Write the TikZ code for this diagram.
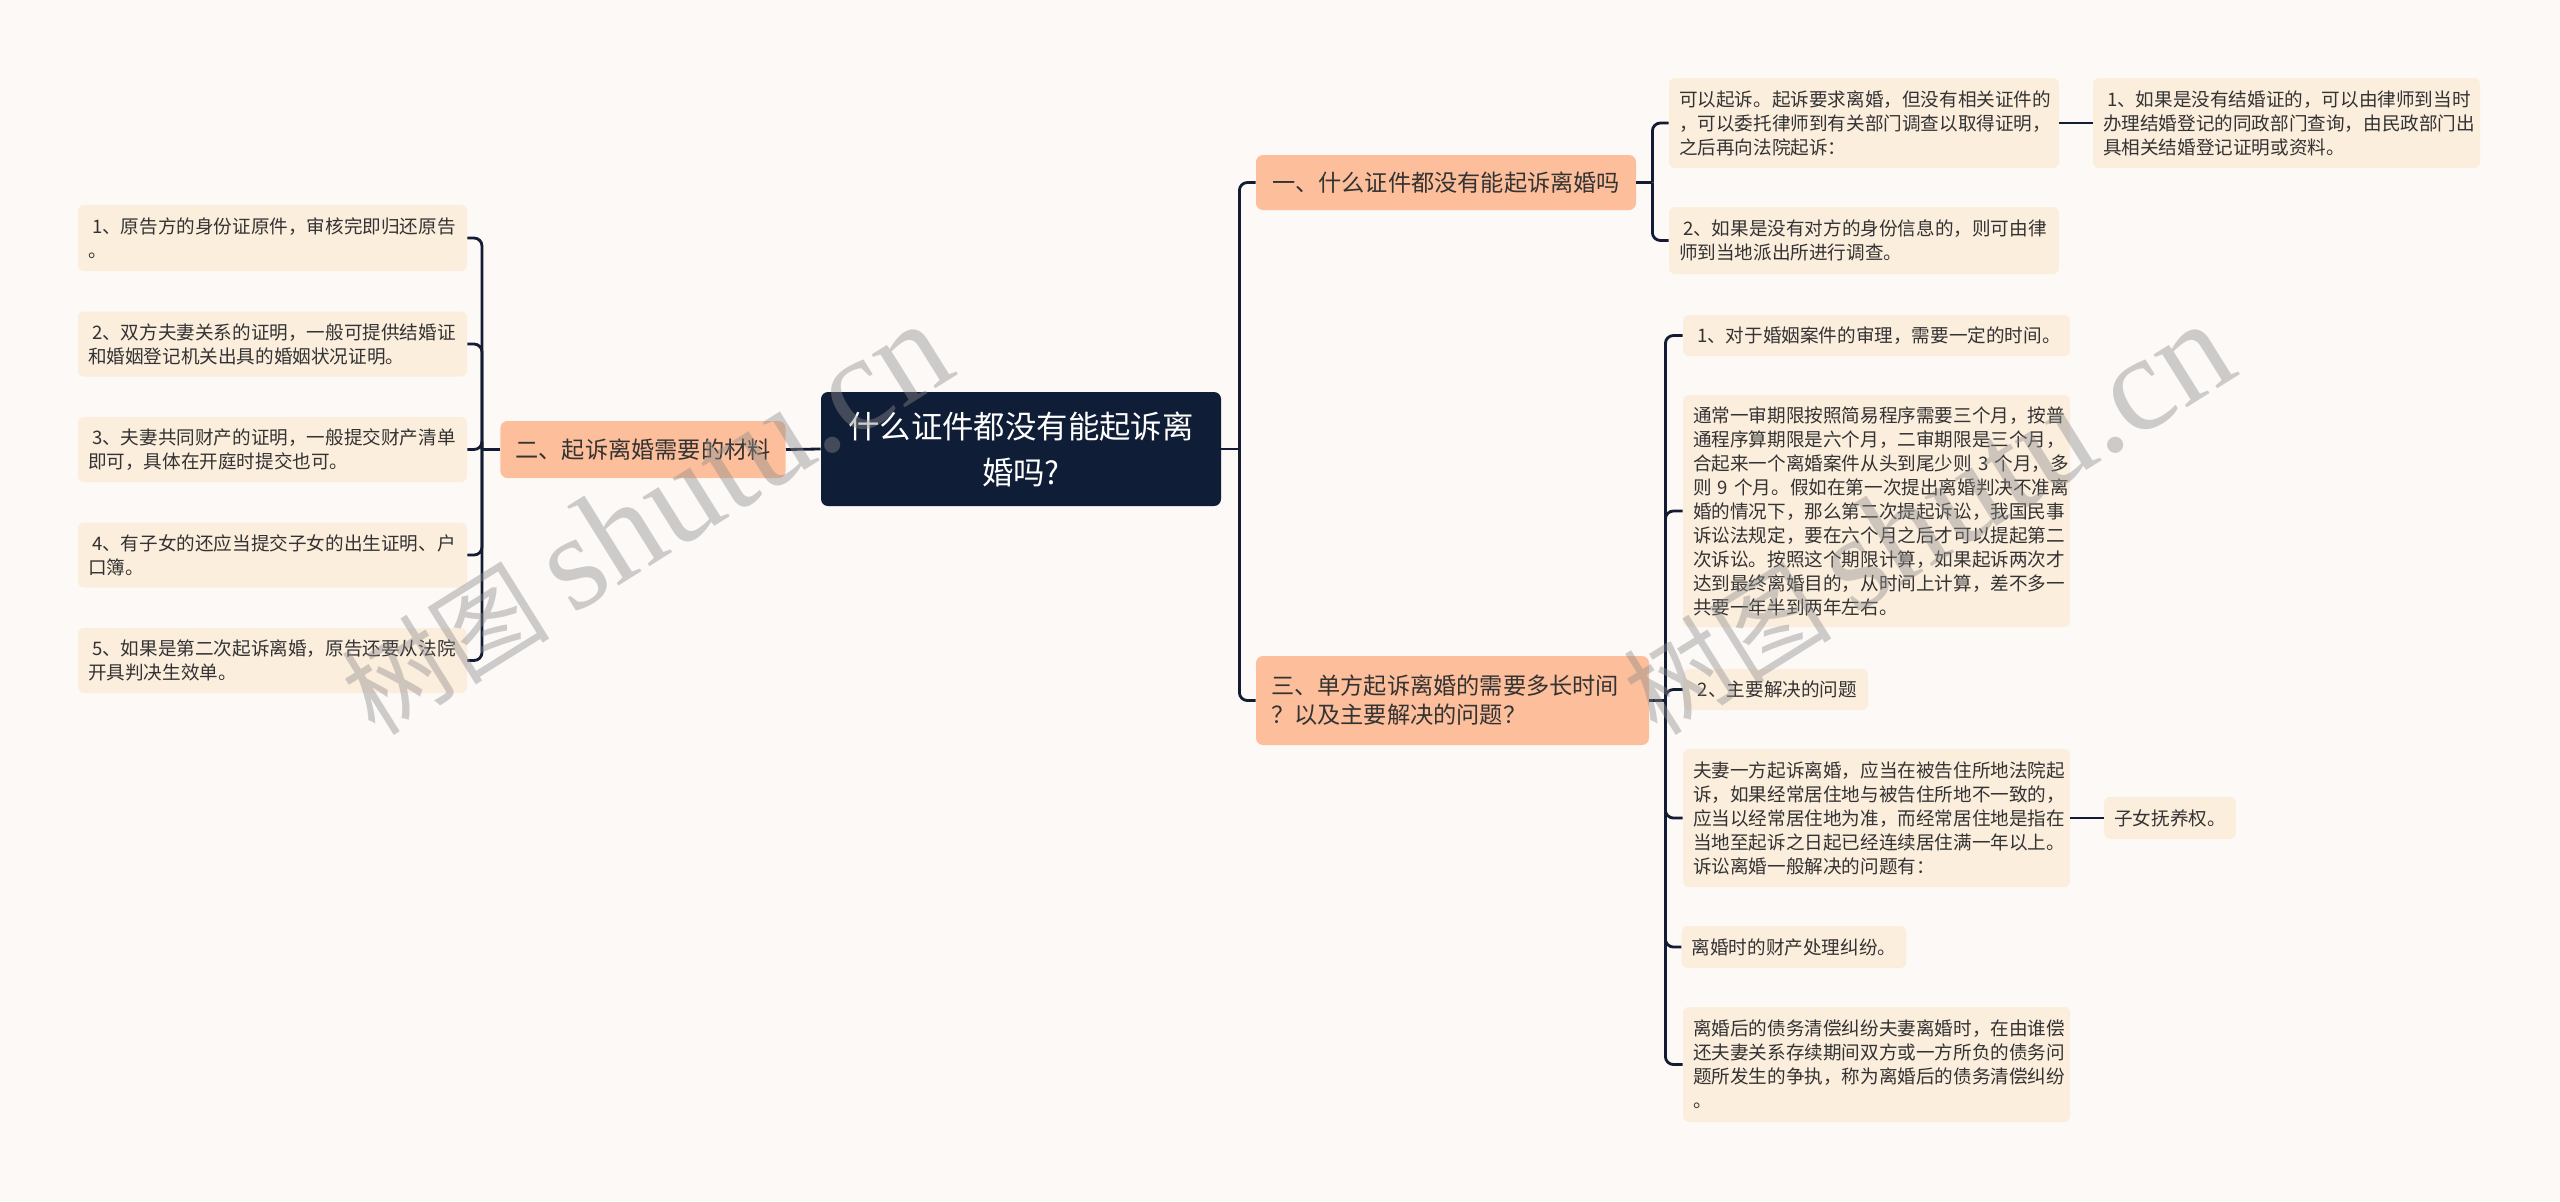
\documentclass[tikz,border=0pt]{standalone}
\usepackage{fontspec}
\setmainfont{Noto Sans CJK SC}
\newfontfamily\wmlat{Liberation Serif}
\usetikzlibrary{calc}
\definecolor{bgc}{HTML}{FCF9F7}
\definecolor{leafc}{HTML}{FCEEDD}
\definecolor{branchc}{HTML}{FDBF9B}
\definecolor{rootc}{HTML}{0F1D36}
\definecolor{linec}{HTML}{131C33}
\definecolor{txtc}{HTML}{333333}
\tikzset{
  leaf/.style={fill=leafc, rounded corners=3pt, inner xsep=5pt, inner ysep=0pt,
    font=\fontsize{9.3}{12}\selectfont, text=txtc, align=left},
  branch/.style={fill=branchc, rounded corners=3.5pt, inner xsep=7.5pt, inner ysep=0pt,
    font=\fontsize{11.6}{14.5}\selectfont, text=txtc, align=left},
  rootbox/.style={fill=rootc, rounded corners=3.5pt, inner sep=0pt,
    font=\fontsize{15.7}{23}\selectfont, text=white, align=center},
  conn/.style={draw=linec, line width=1.4pt, rounded corners=4pt},
  wm/.style={text=black!45, opacity=0.42, inner sep=0pt},
}
\newcommand{\ld}{\hspace*{2pt}}
\begin{document}
\begin{tikzpicture}[x=0.5pt,y=-0.5pt]
\fill[bgc] (0,0) rectangle (2560,1201);
\useasboundingbox (0,0) rectangle (2560,1201);

% root
\node[rootbox, minimum width=200pt, minimum height=57pt] (root) at (1021,449)
  {什么证件都没有能起诉离\\婚吗?};

% left branch
\node[branch, minimum width=142pt, minimum height=28.5pt] (lb) at (643,449.5) {二、起诉离婚需要的材料};
\node[leaf, text width=184.5pt, minimum height=33pt] (l1) at (272.5,238)
  {\ld 1、原告方的身份证原件，审核完即归还原告\\。};
\node[leaf, text width=184.5pt, minimum height=32.5pt] (l2) at (272.5,344)
  {\ld 2、双方夫妻关系的证明，一般可提供结婚证\\和婚姻登记机关出具的婚姻状况证明。};
\node[leaf, text width=184.5pt, minimum height=32.5pt] (l3) at (272.5,449.5)
  {\ld 3、夫妻共同财产的证明，一般提交财产清单\\即可，具体在开庭时提交也可。};
\node[leaf, text width=184.5pt, minimum height=32.5pt] (l4) at (272.5,555)
  {\ld 4、有子女的还应当提交子女的出生证明、户\\口簿。};
\node[leaf, text width=184.5pt, minimum height=32.5pt] (l5) at (272.5,660.5)
  {\ld 5、如果是第二次起诉离婚，原告还要从法院\\开具判决生效单。};

% right branch 1
\node[branch, minimum width=190pt, minimum height=27.5pt] (b1) at (1446,182.5) {一、什么证件都没有能起诉离婚吗};
\node[leaf, text width=185pt, minimum height=45pt] (a) at (1864,123)
  {可以起诉。起诉要求离婚，但没有相关证件的\\，可以委托律师到有关部门调查以取得证明，\\之后再向法院起诉：};
\node[leaf, text width=183.5pt, minimum height=45pt] (ga) at (2286.5,123)
  {\ld 1、如果是没有结婚证的，可以由律师到当时\\办理结婚登记的同政部门查询，由民政部门出\\具相关结婚登记证明或资料。};
\node[leaf, text width=185pt, minimum height=33.5pt] (b) at (1864,240.5)
  {\ld 2、如果是没有对方的身份信息的，则可由律\\师到当地派出所进行调查。};

% right branch 3
\node[branch, text width=181.5pt, minimum height=44.5pt] (b3) at (1452.5,700.5)
  {三、单方起诉离婚的需要多长时间\\？以及主要解决的问题？};
\node[leaf, text width=183.5pt, minimum height=20.5pt] (c1) at (1876.5,335.5)
  {\ld 1、对于婚姻案件的审理，需要一定的时间。};
\node[leaf, text width=183.5pt, minimum height=116pt] (c2) at (1876.5,511)
  {通常一审期限按照简易程序需要三个月，按普\\通程序算期限是六个月，二审期限是三个月，\\合起来一个离婚案件从头到尾少则~3~个月，多\\则~9~个月。假如在第一次提出离婚判决不准离\\婚的情况下，那么第二次提起诉讼，我国民事\\诉讼法规定，要在六个月之后才可以提起第二\\次诉讼。按照这个期限计算，如果起诉两次才\\达到最终离婚目的，从时间上计算，差不多一\\共要一年半到两年左右。};
\node[leaf, minimum width=92.5pt, minimum height=20.5pt] (c3) at (1775.5,689.5)
  {\ld 2、主要解决的问题};
\node[leaf, text width=183.5pt, minimum height=69pt] (c4) at (1876.5,818)
  {夫妻一方起诉离婚，应当在被告住所地法院起\\诉，如果经常居住地与被告住所地不一致的，\\应当以经常居住地为准，而经常居住地是指在\\当地至起诉之日起已经连续居住满一年以上。\\诉讼离婚一般解决的问题有：};
\node[leaf, minimum width=64pt, minimum height=21pt] (gc4) at (2170,818) {子女抚养权。};
\node[leaf, minimum width=111pt, minimum height=21pt] (c5) at (1794,947) {离婚时的财产处理纠纷。};
\node[leaf, text width=183.5pt, minimum height=57.5pt] (c6) at (1876.5,1064.5)
  {离婚后的债务清偿纠纷夫妻离婚时，在由谁偿\\还夫妻关系存续期间双方或一方所负的债务问\\题所发生的争执，称为离婚后的债务清偿纠纷\\。};

% junctions
\coordinate (lj) at ($(lb.west)+(-18,0)$);
\coordinate (rj) at ($(root.east)+(18,0)$);
\coordinate (b1j) at ($(b1.east)+(16,0)$);
\coordinate (b3j) at ($(b3.east)+(16,0)$);

% connectors
\draw[conn] (root.west) -- (lb.east);
\draw[conn] (lb.west) -- (lj);
\foreach \n in {l1,l2,l3,l4,l5} \draw[conn] (lj) |- (\n.east);
\draw[conn] (root.east) -- (rj);
\draw[conn] (rj) |- (b1.west);
\draw[conn] (rj) |- (b3.west);
\draw[conn] (b1.east) -- (b1j);
\draw[conn] (b1j) |- (a.west);
\draw[conn] (b1j) |- (b.west);
\draw[conn] (a.east) -- (ga.west);
\draw[conn] (b3.east) -- (b3j);
\foreach \n in {c1,c2,c3,c4,c5,c6} \draw[conn] (b3j) |- (\n.west);
\draw[conn] (c4.east) -- (gc4.west);

% watermarks
\node[wm, rotate=32] (wm1) at (645,519) {\fontsize{52}{52}\selectfont 树图 {\wmlat\fontsize{68}{68}\selectfont shutu.cn}};
\node[wm, rotate=32] (wm2) at (1927,519) {\fontsize{52}{52}\selectfont 树图 {\wmlat\fontsize{68}{68}\selectfont shutu.cn}};
\end{tikzpicture}
\end{document}
